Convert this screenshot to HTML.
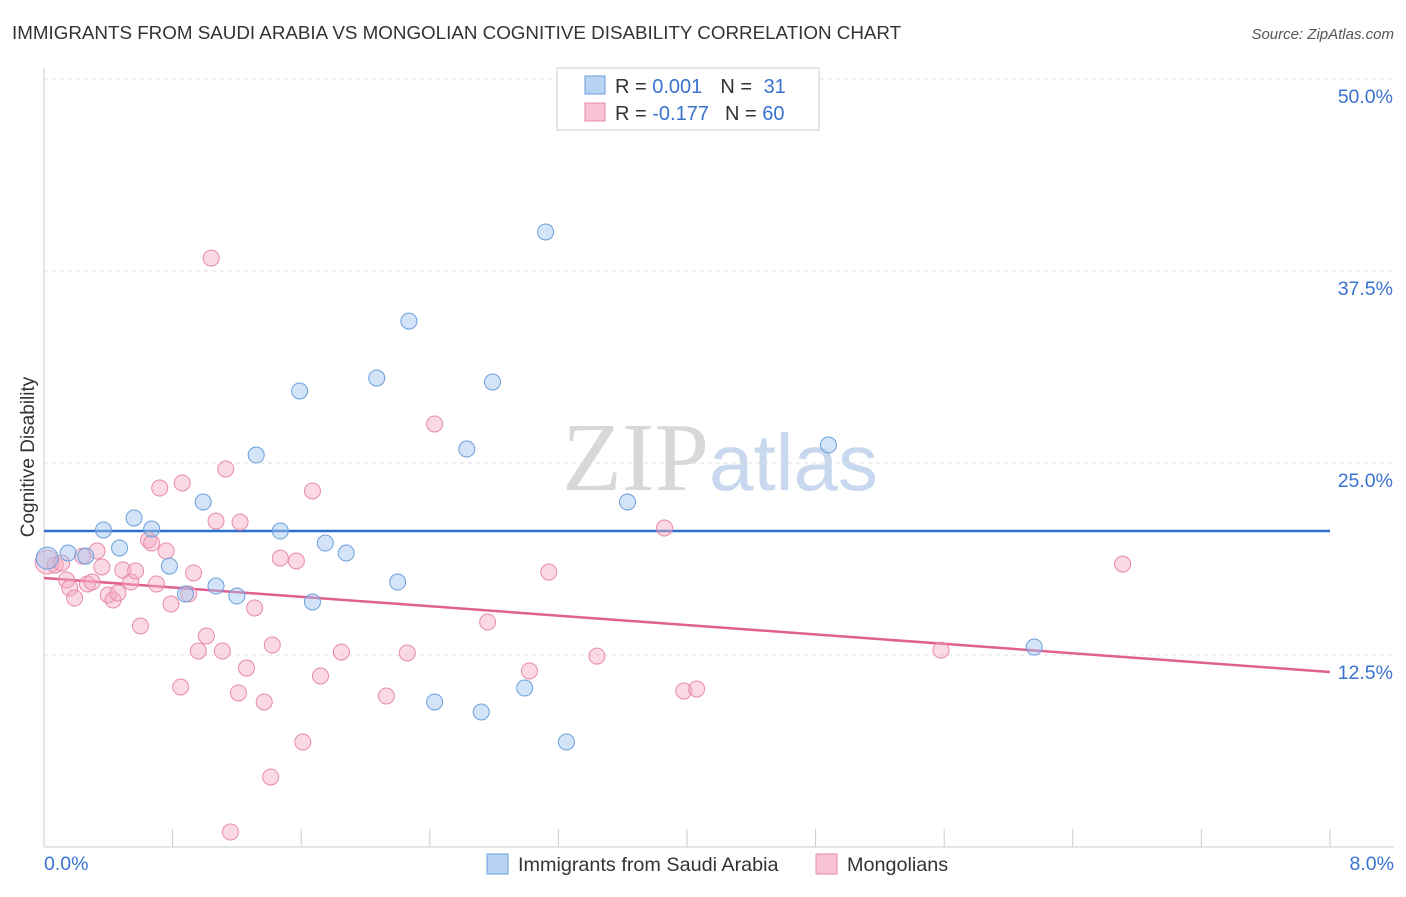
<!DOCTYPE html>
<html><head><meta charset="utf-8"><style>
body{margin:0;background:#fff;font-family:"Liberation Sans",sans-serif;}
svg text{font-family:"Liberation Sans",sans-serif;}
</style></head><body>
<svg id="chart" width="1406" height="892" xmlns="http://www.w3.org/2000/svg">
<text x="12" y="39" font-size="18.8" fill="#333">IMMIGRANTS FROM SAUDI ARABIA VS MONGOLIAN COGNITIVE DISABILITY CORRELATION CHART</text>
<text x="1394" y="39" font-size="15" fill="#555" text-anchor="end" font-style="italic">Source: ZipAtlas.com</text>
<text x="720" y="490" font-size="98" text-anchor="middle"><tspan font-family="Liberation Serif,serif" fill="#d8d8d8">ZIP</tspan><tspan fill="#c8d8ee" font-size="80">atlas</tspan></text>
<text transform="translate(34,457) rotate(-90)" font-size="19" fill="#333" text-anchor="middle">Cognitive Disability</text>
<g id="grid"></g><g id="axes"></g><g id="lines"></g><g id="pts"></g>
<g>
<rect x="557" y="68" width="262" height="62" fill="#fff" stroke="#ccc"/>
<rect x="585" y="76" width="20" height="18" fill="#b8d2f4" stroke="#6a9fdc"/>
<rect x="585" y="103" width="20" height="18" fill="#f8c4d4" stroke="#e88aa8"/>
<text x="615" y="93" font-size="20" fill="#333">R = <tspan fill="#3a72d0">0.001</tspan><tspan dx="18">N = </tspan><tspan fill="#3a72d0" dx="6">31</tspan></text>
<text x="615" y="120" font-size="20" fill="#333">R = <tspan fill="#3a72d0">-0.177</tspan><tspan dx="16">N = </tspan><tspan fill="#3a72d0">60</tspan></text>
</g>
<rect x="487" y="854" width="21" height="20" fill="#b8d2f4" stroke="#6a9fdc"/>
<text x="518" y="871" font-size="19.8" fill="#333">Immigrants from Saudi Arabia</text>
<rect x="816" y="854" width="21" height="20" fill="#f8c4d4" stroke="#e88aa8"/>
<text x="847" y="871" font-size="19.8" fill="#333">Mongolians</text>
</svg>
<script>
const blueX=[0.02,0.15,0.26,0.37,0.47,0.56,0.67,0.78,0.88,0.99,1.07,1.20,1.32,1.47,1.59,1.67,1.75,1.88,2.07,2.20,2.27,2.43,2.63,2.72,2.79,2.99,3.12,3.25,3.63,4.88,6.16];
const blueY=[18.81,19.14,18.94,20.64,19.47,21.42,20.70,18.29,16.47,22.46,16.99,16.34,25.52,20.57,29.69,15.95,19.79,19.14,30.53,17.25,34.24,9.44,25.91,8.79,30.27,10.35,40.04,6.84,22.46,26.17,13.02];
const pinkX=[0.02,0.07,0.11,0.14,0.16,0.19,0.24,0.27,0.30,0.33,0.36,0.40,0.43,0.46,0.49,0.54,0.57,0.60,0.65,0.67,0.70,0.72,0.76,0.79,0.85,0.86,0.90,0.93,0.96,1.01,1.04,1.07,1.11,1.13,1.16,1.21,1.22,1.26,1.31,1.37,1.41,1.42,1.47,1.57,1.61,1.67,1.72,1.85,2.13,2.26,2.43,2.76,3.02,3.14,3.44,3.86,3.98,4.06,5.58,6.71];
const pinkY=[18.55,18.36,18.49,17.38,16.86,16.21,18.94,17.12,17.25,19.27,18.23,16.41,16.08,16.54,18.03,17.25,17.97,14.39,19.99,19.79,17.12,23.37,19.27,15.82,10.42,23.70,16.47,17.84,12.76,13.74,38.34,21.22,12.76,24.61,0.98,10.03,21.16,11.65,15.56,9.44,4.56,13.15,18.81,18.62,6.84,23.18,11.13,12.69,9.83,12.63,27.54,14.65,11.46,17.90,12.43,20.77,10.16,10.29,12.82,18.42];
const blueTrend=[20.57,20.57];
const pinkTrend=[17.51,11.39];
const yTicks=[12.5,25,37.5,50];
const xTickVals=[0,0.8,1.6,2.4,3.2,4.0,4.8,5.6,6.4,7.2,8.0];
const NS="http://www.w3.org/2000/svg";
const sx=v=>44+v/8*1286, sy=v=>847-v/12.5*192;
function mk(parent,tag,attrs){const e=document.createElementNS(NS,tag);for(const k in attrs)e.setAttribute(k,attrs[k]);document.getElementById(parent).appendChild(e);return e;}
yTicks.forEach(t=>{
 const l=mk('grid','line',{x1:44,x2:1394,y1:sy(t),y2:sy(t),stroke:'#ddd','stroke-dasharray':'4,4'});
 
 
 const tx=mk('grid','text',{x:1393,y:sy(t)+24,'font-size':19.5,fill:'#3a72d0','text-anchor':'end'});
 tx.textContent=t.toFixed(1)+'%';
 
 
});
let a=mk('axes','line',{x1:44,x2:44,y1:68,y2:847,stroke:'#ccc'});


a=mk('axes','line',{x1:44,x2:1394,y1:847,y2:847,stroke:'#ccc'});


xTickVals.forEach(t=>{
 const l=mk('axes','line',{x1:sx(t),x2:sx(t),y1:829,y2:847,stroke:'#ccc'});
 
 
});
[[0,'start'],[8,'end']].forEach(([v,anc])=>{
 const tx=mk('axes','text',{x:v==0?44:1394,y:870,'font-size':19.5,fill:'#3a72d0','text-anchor':anc});
 tx.textContent=v.toFixed(1)+'%';
 
 
});
pinkX.forEach((x,i)=>{
 const c=mk('pts','circle',{cx:sx(x),cy:sy(pinkY[i]),r:i==0?12:8,fill:'rgba(245,170,195,0.45)',stroke:'#e88aa8','stroke-width':1});
 
 
});
blueX.forEach((x,i)=>{
 const c=mk('pts','circle',{cx:sx(x),cy:sy(blueY[i]),r:i==0?11:8,fill:'rgba(160,195,240,0.45)',stroke:'#6a9fdc','stroke-width':1});
 
 
});
let tl=mk('lines','line',{x1:sx(0),x2:sx(8),y1:sy(blueTrend[0]),y2:sy(blueTrend[1]),stroke:'#2f6fcc','stroke-width':2.5});


tl=mk('lines','line',{x1:sx(0),x2:sx(8),y1:sy(pinkTrend[0]),y2:sy(pinkTrend[1]),stroke:'#e0608f','stroke-width':2.5});


</script>
</body></html>
